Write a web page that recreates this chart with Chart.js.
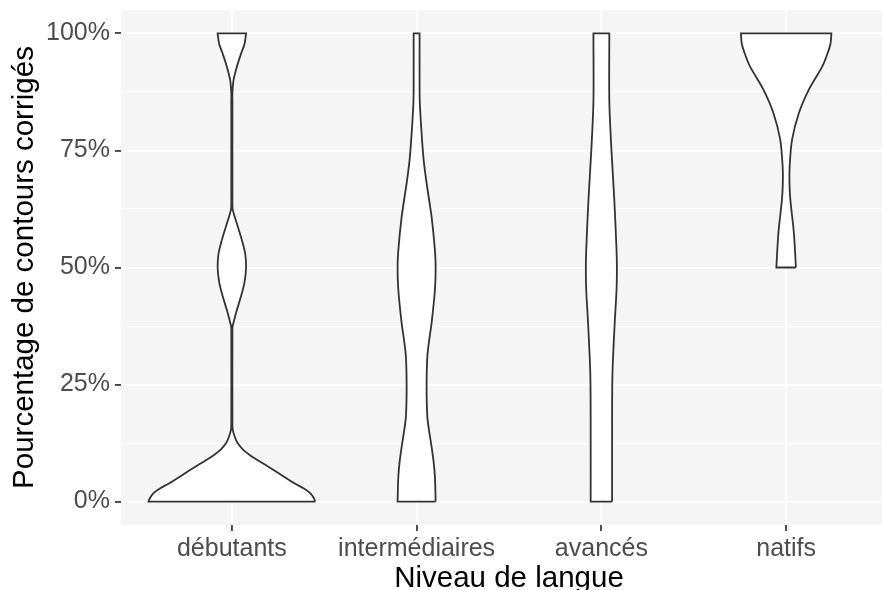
<!DOCTYPE html>
<html>
<head>
<meta charset="utf-8">
<script src="https://cdn.jsdelivr.net/npm/chart.js@4/dist/chart.umd.min.js"></script>
<style>
  html, body { margin: 0; padding: 0; overflow: hidden; background: #fff; }
  #wrap { width: 898px; height: 590px; }
</style>
</head>
<body>
<div id="wrap"><canvas id="violin" width="898" height="590"></canvas></div>
<script>
// categories and axis ticks
let categories = ['débutants', 'intermédiaires', 'avancés', 'natifs'];
let yTicks = [0, 12.5, 25, 37.5, 50, 62.5, 75, 87.5, 100];

// violin outlines: y level (%) and half width (category units)
let debutants_y = [0, 0.7, 1.8, 2.8, 3.9, 5.3, 6.8, 8.2, 9.6, 11, 12.5, 13.9, 15.3, 16.7, 36, 37.4, 39, 40.9, 44.5, 47, 50, 53, 55.9, 59.4, 61, 62.5, 64, 85.5, 87.2, 90, 92.9, 95.7, 97.8, 100];
let debutants_w = [0.451, 0.444, 0.424, 0.390, 0.338, 0.282, 0.224, 0.167, 0.110, 0.063, 0.031, 0.015, 0.005, 0.003, 0.003, 0.004, 0.014, 0.027, 0.054, 0.069, 0.077, 0.072, 0.054, 0.027, 0.014, 0.004, 0.003, 0.003, 0.003, 0.009, 0.027, 0.050, 0.069, 0.077];

let inter_y = [0, 5.3, 8.5, 11.7, 15, 18.1, 24.5, 31, 34.5, 38.1, 45.2, 50, 53.7, 60.8, 68, 73, 78.6, 85.5, 92, 100];
let inter_w = [0.103, 0.099, 0.092, 0.081, 0.068, 0.058, 0.054, 0.058, 0.068, 0.081, 0.099, 0.103, 0.099, 0.081, 0.054, 0.038, 0.027, 0.017, 0.016, 0.016];

let avances_y = [0, 16.7, 27.4, 38.1, 45.2, 50, 53.7, 64.4, 75.4, 85.5, 100];
let avances_w = [0.058, 0.058, 0.060, 0.072, 0.082, 0.084, 0.082, 0.070, 0.054, 0.043, 0.043];

let natifs_y = [50, 57.3, 64.4, 68, 71.6, 77.3, 83, 88, 92.9, 95.5, 97.8, 100];
let natifs_w = [0.053, 0.042, 0.023, 0.018, 0.019, 0.032, 0.069, 0.123, 0.195, 0.222, 0.240, 0.245];

let fontFamily = '"Liberation Sans", Arial, sans-serif';

// repeat first and last point so the spline keeps sharp corners at the flat ends
function withCorners(side) {
    return [side[0]].concat(side, [side[side.length - 1]]);
}

function violin(pos, ys, ws) {
    let right = ys.map(function(y, k) { return {x: pos + ws[k], y: y}; });
    let left = ys.map(function(y, k) { return {x: pos - ws[k], y: y}; }).reverse();
    let pts = withCorners(right).concat(withCorners(left));
    pts.push(pts[0], pts[0]); // close the outline
    return {
        data: pts,
        showLine: true,
        fill: 'shape',
        backgroundColor: '#ffffff',
        borderColor: '#333333',
        borderWidth: 1.8,
        pointRadius: 0,
        tension: 0.3
    };
}

// grey panel behind the grid
let panelBg = {
    id: 'panelBg',
    beforeDraw: function(chart) {
        let a = chart.chartArea;
        let ctx = chart.ctx;
        ctx.save();
        ctx.fillStyle = '#f5f5f5';
        ctx.fillRect(a.left, a.top, a.right - a.left, a.bottom - a.top);
        ctx.restore();
    }
};

function isMajor(v) { return v % 25 === 0; }

let config_violin = {
    type: 'scatter',
    data: {
        datasets: [
            violin(1, debutants_y, debutants_w),
            violin(2, inter_y, inter_w),
            violin(3, avances_y, avances_w),
            violin(4, natifs_y, natifs_w)
        ]
    },
    plugins: [panelBg],
    options: {
        responsive: false,
        animation: false,
        devicePixelRatio: 1,
        layout: { padding: { top: 10, right: 1, left: 0, bottom: 0 } },
        plugins: {
            legend: { display: false },
            tooltip: { enabled: false }
        },
        scales: {
            x: {
                type: 'linear',
                min: 0.4,
                max: 4.6,
                afterBuildTicks: function(scale) {
                    scale.ticks = categories.map(function(c, i) { return {value: i + 1}; });
                },
                afterFit: function(scale) {
                    scale.height = 65;
                    scale.paddingLeft = 0;
                    scale.paddingRight = 0;
                },
                border: { display: false },
                grid: {
                    color: '#ffffff',
                    lineWidth: 1.9,
                    tickColor: '#333333',
                    tickWidth: 1.7,
                    tickLength: 6
                },
                ticks: {
                    autoSkip: false,
                    maxRotation: 0,
                    padding: 3,
                    color: '#4d4d4d',
                    font: { family: fontFamily, size: 25 },
                    callback: function(v) { return categories[Math.round(v) - 1]; }
                },
                title: {
                    display: true,
                    text: 'Niveau de langue',
                    color: '#000000',
                    font: { family: fontFamily, size: 29.5 },
                    padding: { top: 0, bottom: -7 }
                }
            },
            y: {
                min: -5,
                max: 105,
                afterBuildTicks: function(scale) {
                    scale.ticks = yTicks.map(function(v) { return {value: v}; });
                },
                afterFit: function(scale) {
                    scale.width = 121;
                    scale.paddingTop = 0;
                    scale.paddingBottom = 0;
                },
                border: { display: false },
                grid: {
                    color: '#ffffff',
                    lineWidth: function(ctx) { return isMajor(ctx.tick.value) ? 1.9 : 0.95; },
                    tickColor: function(ctx) { return isMajor(ctx.tick.value) ? '#333333' : 'rgba(0,0,0,0)'; },
                    tickWidth: 1.7,
                    tickLength: 6
                },
                ticks: {
                    padding: 5,
                    color: '#4d4d4d',
                    font: { family: fontFamily, size: 25 },
                    callback: function(v) { return isMajor(v) ? v + '%' : ''; }
                },
                title: {
                    display: true,
                    text: 'Pourcentage de contours corrigés',
                    color: '#000000',
                    font: { family: fontFamily, size: 29.5 },
                    padding: { top: 7, bottom: 0 }
                }
            }
        }
    }
};

let violin_chart = new Chart(
    document.getElementById('violin'),
    config_violin
);
</script>
</body>
</html>
